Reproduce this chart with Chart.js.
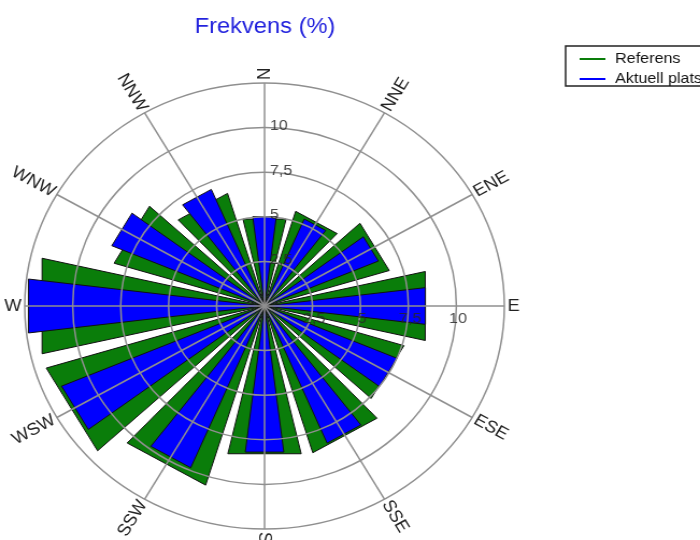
<!DOCTYPE html>
<html>
<head>
<meta charset="utf-8">
<script src="https://cdn.jsdelivr.net/npm/chart.js@4.4.1/dist/chart.umd.min.js"></script>
<style>
  html, body { margin: 0; padding: 0; background: #fff; overflow: hidden; }
  /* the reference rose is a little wider than tall, so the whole chart is stretched sideways */
  #wrap { position: relative; width: 651px; height: 540px; transform: scaleX(1.0753); transform-origin: 0 0; }
</style>
</head>
<body>
<div id="wrap"><canvas id="rose"></canvas></div>
<script>
Chart.defaults.font.family = "'Liberation Sans', Arial, sans-serif";

const directions = ["N", "NNE", "ENE", "E", "ESE", "SSE", "S", "SSW", "WSW", "W", "WNW", "NNW"];
const referens = [5.0, 5.55, 6.8, 8.6, 7.6, 8.6, 8.5, 10.5, 11.9, 11.9, 8.2, 6.6];
const aktuell = [5.05, 5.3, 6.45, 8.45, 7.5, 8.35, 8.25, 9.85, 11.5, 12.4, 8.65, 7.1];
const tickValues = [2.5, 5, 7.5, 10];
const tickLabels = ["2,5", "5", "7,5", "10"];
const seriesNames = ["Referens", "Aktuell plats"];

const green = "#0a7d0a";
const blue = "#0000ff";
const sector = 360 / directions.length;
const refWidth = 26;   // degrees of each green wedge
const aktWidth = 14;   // degrees of each blue wedge

// every bar is followed by an empty gap wedge so the bars sit centred on their direction
function withGaps(values) {
    const out = [];
    values.forEach(v => out.push(v, 0));
    return out;
}

const roseText = {
    id: "roseText",
    afterDraw(chart) {
        const ctx = chart.ctx;
        const scale = chart.scales.r;
        const cx = scale.xCenter;
        const cy = scale.yCenter;
        const outer = scale.getDistanceFromCenterForValue(scale.max);

        ctx.save();
        ctx.textBaseline = "middle";

        // direction names, written along their spoke
        ctx.fillStyle = "#222";
        ctx.font = "17px 'Liberation Sans', Arial, sans-serif";
        directions.forEach((name, i) => {
            const a = scale.getIndexAngle(i);
            ctx.save();
            ctx.translate(cx, cy);
            if (a > Math.PI + 0.01) {
                ctx.rotate(a + Math.PI / 2);
                ctx.textAlign = "right";
                ctx.fillText(name, -(outer + 3), 0);
            } else {
                ctx.rotate(a - Math.PI / 2);
                ctx.textAlign = "left";
                ctx.fillText(name, outer + 3, 0);
            }
            ctx.restore();
        });

        // ring values on the north and east spokes
        ctx.fillStyle = "rgba(40,40,40,0.85)";
        ctx.font = "15px 'Liberation Sans', Arial, sans-serif";
        tickValues.forEach((v, i) => {
            const d = scale.getDistanceFromCenterForValue(v);
            ctx.textAlign = "left";
            ctx.fillText(tickLabels[i], cx + 5, cy - d - 1.5);
            ctx.textAlign = "center";
            ctx.fillText(tickLabels[i], cx + d + 1.5, cy + 13);
        });

        // legend box
        const lx = 526, ly = 46;
        ctx.strokeStyle = "#222";
        ctx.lineWidth = 1.5;
        ctx.strokeRect(lx, ly, 200, 40);
        ctx.font = "15px 'Liberation Sans', Arial, sans-serif";
        ctx.textAlign = "left";
        [green, blue].forEach((c, i) => {
            const y = ly + 13 + i * 20;
            ctx.strokeStyle = c;
            ctx.lineWidth = 2;
            ctx.beginPath();
            ctx.moveTo(lx + 13, y);
            ctx.lineTo(lx + 37, y);
            ctx.stroke();
            ctx.fillStyle = "#111";
            ctx.fillText(seriesNames[i], lx + 46, y);
        });
        ctx.restore();
    }
};

const hiddenScale = (startAngle) => ({
    type: "radialLinear",
    axis: "r",
    display: false,
    min: 0,
    max: 12.5,
    startAngle: startAngle
});

new Chart(document.getElementById("rose"), {
    type: "polarArea",
    data: {
        labels: directions,
        datasets: [
            {
                label: seriesNames[0],
                data: withGaps(referens),
                rAxisID: "rRef",
                order: 2,
                backgroundColor: green,
                borderColor: "#111",
                borderWidth: ctx => ctx.dataIndex % 2 ? 0 : 1,
                angle: ctx => ctx.dataIndex % 2 ? sector - refWidth : refWidth,
                circular: false
            },
            {
                label: seriesNames[1],
                data: withGaps(aktuell),
                rAxisID: "rAkt",
                order: 1,
                backgroundColor: blue,
                borderColor: "#111",
                borderWidth: ctx => ctx.dataIndex % 2 ? 0 : 1,
                angle: ctx => ctx.dataIndex % 2 ? sector - aktWidth : aktWidth,
                circular: false
            }
        ]
    },
    options: {
        responsive: true,
        maintainAspectRatio: false,
        animation: false,
        layout: {
            padding: { left: 0, right: 158, top: 0, bottom: 10 }
        },
        scales: {
            r: {
                min: 0,
                max: 12.5,
                startAngle: 0,
                ticks: { display: false, stepSize: 2.5 },
                grid: { color: "#8f8f8f", lineWidth: 1.5, z: 1 },
                angleLines: { display: true, color: "#8f8f8f", lineWidth: 1.5 },
                pointLabels: { display: false }
            },
            rRef: hiddenScale(-refWidth / 2),
            rAkt: hiddenScale(-aktWidth / 2)
        },
        plugins: {
            legend: { display: false },
            tooltip: { enabled: false },
            title: {
                display: true,
                text: "Frekvens (%)",
                color: "#2222dd",
                fullSize: false,
                font: { size: 22, weight: "normal" },
                padding: { top: 14, bottom: 43 }
            }
        }
    },
    plugins: [roseText]
});
</script>
</body>
</html>
